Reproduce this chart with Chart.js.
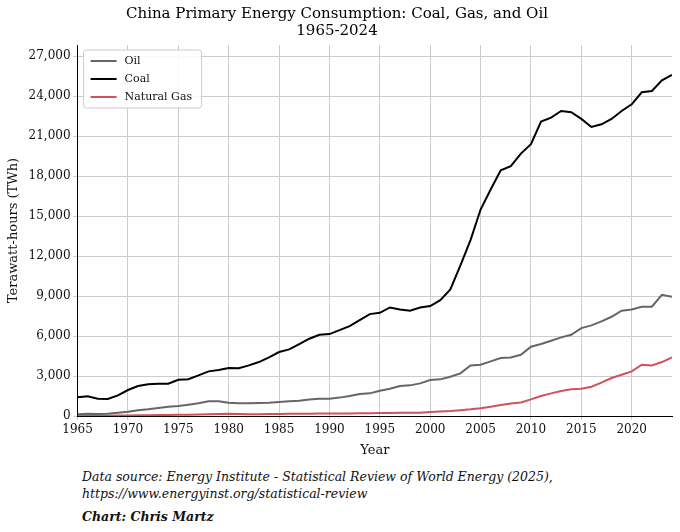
<!DOCTYPE html>
<html><head><meta charset="utf-8">
<script src="https://cdn.jsdelivr.net/npm/chart.js@4"></script>
<style>
body{margin:0;background:#fff;width:680px;height:532px;overflow:hidden;font-family:"DejaVu Serif",serif}
#wrap{position:absolute;left:0;top:0;width:680px;height:462px}
.note{position:absolute;left:82px;font-style:italic;font-size:12.5px;color:#111;line-height:17px}
</style></head><body>
<div id="wrap"><canvas id="c"></canvas></div>
<div class="note" style="top:468px">Data source: Energy Institute - Statistical Review of World Energy (2025),<br>https://www.energyinst.org/statistical-review</div>
<div class="note" style="top:508px;font-weight:bold">Chart: Chris Martz</div>
<script>
const years=[];for(let y=1965;y<=2024;y++)years.push(y);
const coal=[1400,1480,1300,1280,1550,1950,2250,2380,2430,2420,2720,2760,3050,3350,3450,3600,3580,3800,4050,4400,4800,5000,5400,5800,6100,6150,6450,6750,7200,7650,7750,8150,8000,7900,8150,8250,8700,9500,11300,13200,15500,17000,18450,18750,19700,20400,22100,22400,22900,22800,22300,21700,21900,22300,22900,23400,24300,24400,25200,25600];
const oil=[140,160,150,170,240,320,430,500,600,700,750,850,950,1100,1100,1000,950,950,970,1000,1050,1100,1150,1230,1300,1300,1380,1500,1650,1700,1900,2050,2250,2300,2450,2700,2750,2950,3200,3800,3850,4100,4350,4400,4600,5200,5400,5650,5900,6100,6600,6800,7100,7450,7900,8000,8200,8200,9100,8950];
const gas=[20,25,25,25,30,40,50,60,70,80,90,100,120,140,150,160,150,140,140,145,150,160,160,170,180,180,190,190,200,210,220,230,240,240,250,300,340,380,440,500,580,700,830,930,1020,1250,1500,1700,1880,2000,2050,2200,2500,2850,3100,3350,3850,3800,4050,4400];
const xTicks=[1965,1970,1975,1980,1985,1990,1995,2000,2005,2010,2015,2020];
const yTicks=[0,3000,6000,9000,12000,15000,18000,21000,24000,27000];
const serif="'DejaVu Serif', serif";
Chart.defaults.font.family=serif;Chart.defaults.color='#111';
const legendPlugin={id:'lg',afterDraw(ch){
 const a=ch.chartArea,c=ch.ctx;c.save();
 const x=a.left+6,y=a.top+5,w=118,h=58;
 c.fillStyle='rgba(255,255,255,0.9)';c.strokeStyle='#ccc';c.lineWidth=1;
 c.beginPath();c.roundRect(x,y,w,h,3);c.fill();c.stroke();
 c.font="11px "+serif;c.textBaseline='middle';
 ch.data.datasets.forEach((d,i)=>{const yy=y+11+i*18;
  c.strokeStyle=d.borderColor;c.lineWidth=2;c.beginPath();c.moveTo(x+7,yy);c.lineTo(x+33,yy);c.stroke();
  c.fillStyle='#111';c.fillText(d.label,x+41,yy);});
 c.restore();}};
new Chart(document.getElementById('c'),{type:'line',
data:{labels:years,datasets:[
{label:'Oil',data:oil,borderColor:'#666',backgroundColor:'#666',borderWidth:2,pointRadius:0},
{label:'Coal',data:coal,borderColor:'#000',backgroundColor:'#000',borderWidth:2,pointRadius:0},
{label:'Natural Gas',data:gas,borderColor:'#d0525a',backgroundColor:'#d0525a',borderWidth:2,pointRadius:0}]},
options:{animation:false,responsive:true,maintainAspectRatio:false,
layout:{padding:{right:8,left:2}},
plugins:{title:{display:true,text:['China Primary Energy Consumption: Coal, Gas, and Oil','1965-2024'],font:{size:15,weight:'normal',lineHeight:1.1},padding:{top:6,bottom:6},color:'#000'},
legend:{display:false},tooltip:{enabled:false}},
scales:{x:{type:'linear',min:1965,max:2024,title:{display:true,text:'Year',font:{size:13},padding:{top:2}},
afterBuildTicks:s=>{s.ticks=xTicks.map(v=>({value:v}));},
ticks:{font:{size:12},callback:v=>String(v),maxRotation:0},grid:{color:'#ccc',tickLength:4},border:{color:'#000',dash:[]}},
y:{min:0,max:27850,title:{display:true,text:'Terawatt-hours (TWh)',font:{size:13}},
afterBuildTicks:s=>{s.ticks=yTicks.map(v=>({value:v}));},
ticks:{font:{size:12},callback:v=>v.toLocaleString('en-US')},grid:{color:'#ccc',tickLength:4},border:{color:'#000'}}}},
plugins:[legendPlugin,{id:'dash',beforeDatasetsDraw(){}}]
});
</script>
</body></html>
